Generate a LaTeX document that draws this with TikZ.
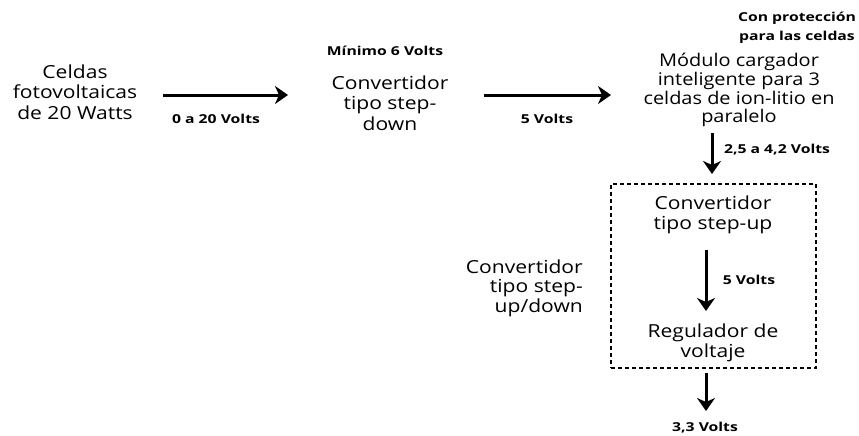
\documentclass[tikz,border=0pt]{standalone}
\usepackage{fontspec}
\setmainfont[FakeStretch=1.17]{Open Sans}
\newfontfamily\labelfont[FakeStretch=1.28]{Open Sans}
\newfontfamily\modfont[FakeStretch=1.14]{Open Sans}
\usetikzlibrary{arrows.meta}
\tikzset{
  big/.style={align=center, inner sep=0pt, font=\fontsize{18}{20.5}\selectfont},
  small/.style={align=center, inner sep=0pt, font=\labelfont\fontsize{12.3}{18}\selectfont\bfseries},
  flow/.style={line width=3pt, -{Stealth[length=13pt,width=18pt,inset=4pt]}},
  dbox/.style={draw, line width=1.4pt, dash pattern=on 4pt off 3pt, minimum width=205pt, minimum height=184pt, inner sep=0pt}
}
\begin{document}
\begin{tikzpicture}[x=1pt,y=-1pt]
\useasboundingbox (0,0) rectangle (859,436);
% nodes
\node[big] (celdas) at (75,92) {Celdas\\fotovoltaicas\\de 20 Watts};
\node[big] (down) at (390,103) {Convertidor\\tipo step-\\down};
\node[small] (min) at (385,51) {Mínimo 6 Volts};
\node[big, font=\modfont\fontsize{17.5}{18.8}\selectfont] (modulo) at (739,90) {Módulo cargador\\inteligente para 3\\celdas de ion-litio en\\paralelo};
\node[small, font=\labelfont\fontsize{12.3}{18.5}\selectfont\bfseries] (prot) at (797,28) {Con protección\\para las celdas};
\node[dbox] (box) at (713.5,276) {};
\node[big] (up) at (713,215) {Convertidor\\tipo step-up};
\node[big] (reg) at (713,343) {Regulador de\\voltaje};
\node[big, align=right, anchor=east, font=\fontsize{18}{19.5}\selectfont] (updown) at (583,288) {Convertidor\\tipo step-\\up/down};
% arrow end points
\coordinate (a1s) at (163,95); \coordinate (a1e) at (288,95);
\coordinate (a2s) at (484,95); \coordinate (a2e) at (611,95);
\coordinate (a3s) at (712,133); \coordinate (a3e) at (712,174);
\coordinate (a4s) at (706,250); \coordinate (a4e) at (706,311);
\coordinate (a5s) at (706,373); \coordinate (a5e) at (706,411);
\draw[flow] (a1s) -- (a1e);
\draw[flow] (a2s) -- (a2e);
\draw[flow] (a3s) -- (a3e);
\draw[flow] (a4s) -- (a4e);
\draw[flow] (a5s) -- (a5e);
% labels
\node[small] (l1) at (216,119) {0 a 20 Volts};
\node[small] (l2) at (547,119) {5 Volts};
\node[small] (l3) at (777,150) {2,5 a 4,2 Volts};
\node[small] (l4) at (749,280) {5 Volts};
\node[small] (l5) at (705,428) {3,3 Volts};
\end{tikzpicture}
\end{document}
